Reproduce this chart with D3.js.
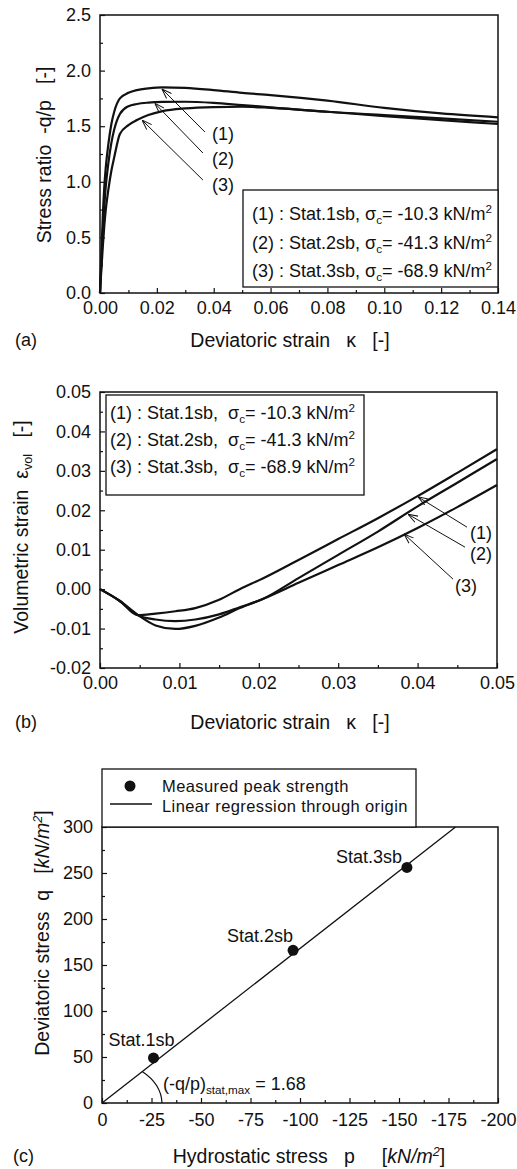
<!DOCTYPE html>
<html>
<head>
<meta charset="utf-8">
<script src="https://cdn.jsdelivr.net/npm/d3@7"></script>
<style>
body { margin: 0; background: #fff; }
svg text { font-family: "Liberation Sans", Arial, Helvetica, sans-serif; fill: #111; white-space: pre; }
</style>
</head>
<body>
<div id="chart-area"></div>
<script>
// ---------- data ----------
// (a) stress ratio vs deviatoric strain
const aKappa = [0, 0.0005, 0.001, 0.0015, 0.002, 0.003, 0.004, 0.005, 0.007, 0.01, 0.013, 0.017, 0.022, 0.03, 0.04, 0.05, 0.06, 0.08, 0.1, 0.12, 0.14]
const aRatio1 = [0, 0.35, 0.70, 0.95, 1.12, 1.35, 1.52, 1.63, 1.75, 1.80, 1.825, 1.84, 1.85, 1.845, 1.825, 1.80, 1.78, 1.73, 1.665, 1.615, 1.58]
const aRatio2 = [0, 0.28, 0.55, 0.78, 0.95, 1.18, 1.35, 1.47, 1.61, 1.68, 1.70, 1.712, 1.718, 1.72, 1.71, 1.69, 1.67, 1.63, 1.60, 1.57, 1.54]
const aRatio3 = [0, 0.22, 0.42, 0.60, 0.74, 0.94, 1.10, 1.22, 1.43, 1.51, 1.555, 1.60, 1.635, 1.66, 1.672, 1.675, 1.665, 1.63, 1.59, 1.555, 1.52]
const aXTicks = [0, 0.02, 0.04, 0.06, 0.08, 0.10, 0.12, 0.14]
const aYTicks = [0, 0.5, 1.0, 1.5, 2.0, 2.5]

// (b) volumetric strain vs deviatoric strain
const bKappa = [0, 0.0025, 0.0048, 0.007, 0.0095, 0.012, 0.015, 0.0176, 0.0205, 0.025, 0.03, 0.035, 0.04, 0.045, 0.05]
const bVol1 = [0, -0.003, -0.0066, -0.0062, -0.0056, -0.0048, -0.0027, 0.0, 0.0027, 0.0074, 0.0127, 0.018, 0.0236, 0.0295, 0.0355]
const bVol2 = [0, -0.003, -0.0066, -0.0077, -0.0081, -0.0077, -0.0064, -0.0046, -0.0025, 0.0028, 0.0087, 0.0146, 0.021, 0.027, 0.033]
const bVol3 = [0, -0.003, -0.0066, -0.0092, -0.0101, -0.0093, -0.0072, -0.0048, -0.0025, 0.0016, 0.0061, 0.0106, 0.0155, 0.0208, 0.0264]
const bXTicks = [0, 0.01, 0.02, 0.03, 0.04, 0.05]
const bYTicks = [-0.02, -0.01, 0, 0.01, 0.02, 0.03, 0.04, 0.05]

// legend entries shared by (a) and (b)
const tests = ["Stat.1sb", "Stat.2sb", "Stat.3sb"]
const sigmaC = ["-10.3", "-41.3", "-68.9"]

// (c) peak strength
const cP = [-26, -96.5, -154]
const cQ = [49, 166, 256]
const cSlope = 1.68
const cXTicks = [0, -25, -50, -75, -100, -125, -150, -175, -200]
const cYTicks = [0, 50, 100, 150, 200, 250, 300]

// ---------- setup ----------
const svg = d3.select("#chart-area").append("svg")
  .attr("width", 517)
  .attr("height", 1169)

const FS = 18     // ticks, legends, annotations
const LFS = 19.5  // axis titles

// text with sub / sup / italic pieces
function rich(sel, parts) {
  let shift = 0
  parts.forEach(([t, k]) => {
    const ts = sel.append("tspan").text(t)
    const target = k === "sub" ? 4 : (k === "sup" || k === "itsup") ? -7 : 0
    if (target !== shift) { ts.attr("dy", target - shift); shift = target }
    if (k === "sub" || k === "sup" || k === "itsup") ts.attr("font-size", "0.65em")
    if (k === "it" || k === "itsup") ts.attr("font-style", "italic")
  })
  return sel
}

function frame(g, x, y, W, H, xMaj, xMin, yMaj, yMin, xFmt, yFmt, xPad, yPad) {
  const xa = g.append("g").attr("transform", `translate(0,${H})`)
  xa.append("g").call(d3.axisBottom(x).tickValues(xMin).tickSizeInner(-3).tickSizeOuter(0).tickFormat(""))
  xa.append("g").call(d3.axisBottom(x).tickValues(xMaj).tickSizeInner(-5).tickSizeOuter(0).tickPadding(xPad).tickFormat(xFmt))
  const ya = g.append("g")
  ya.append("g").call(d3.axisLeft(y).tickValues(yMin).tickSizeInner(-3).tickSizeOuter(0).tickFormat(""))
  ya.append("g").call(d3.axisLeft(y).tickValues(yMaj).tickSizeInner(-5).tickSizeOuter(0).tickPadding(yPad).tickFormat(yFmt))
  g.selectAll(".domain").remove()
  g.selectAll(".tick line").attr("stroke", "#111").attr("stroke-width", 1.2)
  g.selectAll(".tick text").attr("font-size", FS).attr("fill", "#111")
  g.append("rect")
    .attr("width", W).attr("height", H)
    .attr("fill", "none").attr("stroke", "#111").attr("stroke-width", 1.5)
}

svg.append("defs").append("marker")
  .attr("id", "arr")
  .attr("viewBox", "0 0 10 8")
  .attr("refX", 10).attr("refY", 4)
  .attr("markerWidth", 10).attr("markerHeight", 8)
  .attr("markerUnits", "userSpaceOnUse")
  .attr("orient", "auto")
  .append("path")
  .attr("d", "M0,0.5 L10,4 L0,7.5")
  .attr("fill", "none").attr("stroke", "#111").attr("stroke-width", 1)

function legendLines(g, x0, y0, step, gap) {
  tests.forEach((t, i) => {
    rich(g.append("text").attr("x", x0).attr("y", y0 + i * step).attr("font-size", FS),
      [[`(${i + 1}) : ${t},${gap}σ`], ["c", "sub"], [`= ${sigmaC[i]} kN/m`], ["2", "sup"]])
  })
}

function arrows(g, x, y, list) {
  list.forEach(a => {
    g.append("line")
      .attr("x1", x(a.from[0])).attr("y1", y(a.from[1]))
      .attr("x2", x(a.to[0])).attr("y2", y(a.to[1]))
      .attr("stroke", "#111").attr("stroke-width", 1)
      .attr("marker-end", "url(#arr)")
    g.append("text")
      .attr("x", x(a.label[0])).attr("y", y(a.label[1]))
      .attr("dy", "0.35em").attr("font-size", FS)
      .text(a.text)
  })
}

// ---------- (a) ----------
{
  const W = 398, H = 278
  const g = svg.append("g").attr("transform", "translate(100,15)")
  const x = d3.scaleLinear().domain([0, 0.14]).range([0, W])
  const y = d3.scaleLinear().domain([0, 2.5]).range([H, 0])
  frame(g, x, y, W, H, aXTicks, d3.range(0.01, 0.14, 0.02), aYTicks, d3.range(0.25, 2.5, 0.5),
    d => d.toFixed(2), d => d.toFixed(1), 8, 9)

  const line = d3.line().x((d, i) => x(aKappa[i])).y(d => y(d)).curve(d3.curveMonotoneX)
  ;[aRatio1, aRatio2, aRatio3].forEach(s => {
    g.append("path").attr("d", line(s))
      .attr("fill", "none").attr("stroke", "#111").attr("stroke-width", 2.2)
  })

  arrows(g, x, y, [
    { from: [0.0369, 1.448], to: [0.0218, 1.835], label: [0.0394, 1.43], text: "(1)" },
    { from: [0.0362, 1.259], to: [0.0193, 1.705], label: [0.0394, 1.205], text: "(2)" },
    { from: [0.0362, 1.016], to: [0.0148, 1.555], label: [0.0394, 0.97], text: "(3)" }
  ])

  const lg = g.append("g").attr("transform", "translate(143,175)")
  lg.append("rect").attr("width", 255).attr("height", 97)
    .attr("fill", "#fff").attr("stroke", "#111").attr("stroke-width", 1.3)
  legendLines(lg, 9, 30, 28.5, " ")

  svg.append("text").attr("x", 290).attr("y", 347).attr("text-anchor", "middle").attr("font-size", LFS)
    .text("Deviatoric strain   κ   [-]")
  svg.append("text").attr("x", 15).attr("y", 346).attr("font-size", FS).text("(a)")
  svg.append("text")
    .attr("transform", "translate(44,155) rotate(-90)")
    .attr("text-anchor", "middle").attr("dy", "0.35em").attr("font-size", LFS)
    .text("Stress ratio  -q/p   [-]")
}

// ---------- (b) ----------
{
  const W = 397, H = 276
  const g = svg.append("g").attr("transform", "translate(100,392)")
  const x = d3.scaleLinear().domain([0, 0.05]).range([0, W])
  const y = d3.scaleLinear().domain([-0.02, 0.05]).range([H, 0])
  frame(g, x, y, W, H, bXTicks, d3.range(0.005, 0.05, 0.01), bYTicks, d3.range(-0.015, 0.05, 0.01),
    d => d.toFixed(2), d => d.toFixed(2), 8, 9)

  const line = d3.line().x((d, i) => x(bKappa[i])).y(d => y(d)).curve(d3.curveMonotoneX)
  ;[bVol1, bVol2, bVol3].forEach(s => {
    g.append("path").attr("d", line(s))
      .attr("fill", "none").attr("stroke", "#111").attr("stroke-width", 2.2)
  })

  arrows(g, x, y, [
    { from: [0.04622, 0.01572], to: [0.04005, 0.0234], label: [0.0466, 0.0142], text: "(1)" },
    { from: [0.04597, 0.01065], to: [0.03879, 0.0190], label: [0.0466, 0.0089], text: "(2)" },
    { from: [0.04446, 0.00254], to: [0.03829, 0.0140], label: [0.0447, 0.0008], text: "(3)" }
  ])

  const lg = g.append("g").attr("transform", "translate(6,3)")
  lg.append("rect").attr("width", 258).attr("height", 100)
    .attr("fill", "#fff").attr("stroke", "#111").attr("stroke-width", 1.3)
  legendLines(lg, 4, 24, 27, "  ")

  svg.append("text").attr("x", 290).attr("y", 729).attr("text-anchor", "middle").attr("font-size", LFS)
    .text("Deviatoric strain   κ   [-]")
  svg.append("text").attr("x", 15).attr("y", 728).attr("font-size", FS).text("(b)")
  rich(svg.append("text")
    .attr("transform", "translate(21,527) rotate(-90)")
    .attr("text-anchor", "middle").attr("dy", "0.35em").attr("font-size", LFS),
    [["Volumetric strain  ε"], ["vol", "sub"], ["   [-]"]])
}

// ---------- (c) ----------
{
  const W = 396, H = 276
  const g = svg.append("g").attr("transform", "translate(102,827)")
  const x = d3.scaleLinear().domain([0, -200]).range([0, W])
  const y = d3.scaleLinear().domain([0, 300]).range([H, 0])
  frame(g, x, y, W, H, cXTicks, d3.range(-12.5, -200, -25), cYTicks, d3.range(25, 300, 50),
    d => String(d), d => String(d), 10, 9)

  // regression line through origin up to top of frame
  const pTop = -300 / cSlope
  g.append("line")
    .attr("x1", x(0)).attr("y1", y(0))
    .attr("x2", x(pTop)).attr("y2", y(300))
    .attr("stroke", "#111").attr("stroke-width", 1.3)

  // angle arc
  const ang = Math.atan2(y(0) - y(cSlope * 100), x(-100) - x(0))
  const r1 = 51
  g.append("path")
    .attr("d", `M${x(0) + 60},${y(0)} A60,44 0 0,0 ${x(0) + r1 * Math.cos(ang)},${y(0) - r1 * Math.sin(ang)}`)
    .attr("fill", "none").attr("stroke", "#111").attr("stroke-width", 1.2)

  g.selectAll("circle.pt").data(cP).join("circle")
    .attr("class", "pt")
    .attr("cx", d => x(d)).attr("cy", (d, i) => y(cQ[i])).attr("r", 5.5)
    .attr("fill", "#111")

  const lblOff = [[-45, -12], [-66, -8], [-71, -4]]
  cP.forEach((p, i) => {
    g.append("text")
      .attr("x", x(p) + lblOff[i][0]).attr("y", y(cQ[i]) + lblOff[i][1])
      .attr("font-size", FS).text(tests[i])
  })

  rich(g.append("text").attr("x", 61).attr("y", -13 + H).attr("font-size", FS),
    [["(-q/p)"], ["stat,max", "sub"], [" = " + cSlope.toFixed(2)]])

  // legend above the frame
  const lg = g.append("g").attr("transform", "translate(0,-58)")
  lg.append("rect").attr("width", 314).attr("height", 58)
    .attr("fill", "#fff").attr("stroke", "#111").attr("stroke-width", 1.3)
  lg.append("circle").attr("cx", 28).attr("cy", 17).attr("r", 5.5).attr("fill", "#111")
  lg.append("line").attr("x1", 8).attr("x2", 50).attr("y1", 35).attr("y2", 35)
    .attr("stroke", "#111").attr("stroke-width", 1.3)
  lg.append("text").attr("x", 60).attr("y", 17).attr("dy", "0.35em").attr("font-size", 16.5)
    .attr("letter-spacing", 0.4).text("Measured peak strength")
  lg.append("text").attr("x", 60).attr("y", 37).attr("dy", "0.35em").attr("font-size", 16.5)
    .attr("letter-spacing", 0.4).text("Linear regression through origin")

  rich(svg.append("text").attr("x", 309).attr("y", 1163).attr("text-anchor", "middle").attr("font-size", LFS),
    [["Hydrostatic stress   p     ["], ["kN/m", "it"], ["2", "itsup"], ["]"]])
  svg.append("text").attr("x", 13).attr("y", 1162).attr("font-size", FS).text("(c)")
  rich(svg.append("text")
    .attr("transform", "translate(42,933) rotate(-90)")
    .attr("text-anchor", "middle").attr("dy", "0.35em").attr("font-size", LFS),
    [["Deviatoric stress  q   ["], ["kN/m", "it"], ["2", "itsup"], ["]"]])
}
</script>
</body>
</html>
